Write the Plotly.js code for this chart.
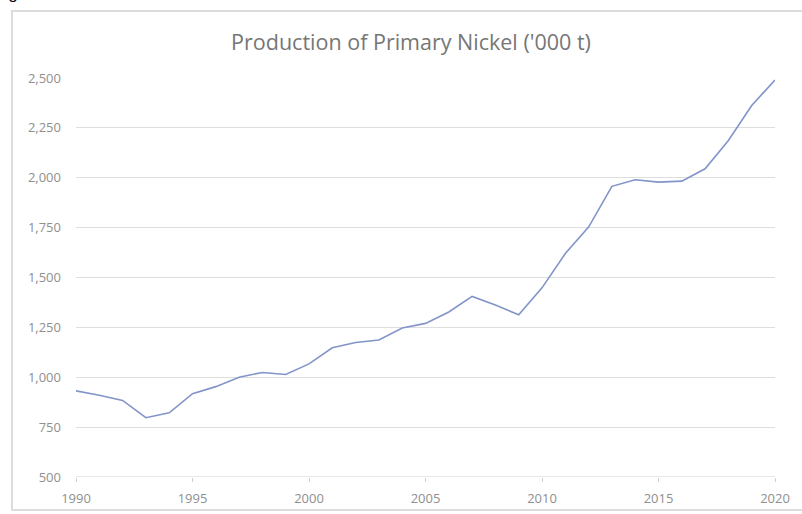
<!DOCTYPE html>
<html>
<head>
<meta charset="utf-8">
<script src="https://cdn.plot.ly/plotly-3.0.1.min.js"></script>
<style>
  html, body { margin: 0; padding: 0; background: #ffffff; }
  #chart { width: 802px; height: 514px; }
</style>
</head>
<body>
<div id="chart"></div>
<script>
// Data
const years = [1990, 1991, 1992, 1993, 1994, 1995, 1996, 1997, 1998, 1999,
               2000, 2001, 2002, 2003, 2004, 2005, 2006, 2007, 2008, 2009,
               2010, 2011, 2012, 2013, 2014, 2015, 2016, 2017, 2018, 2019, 2020];
const production = [932, 910, 884, 797, 822, 918, 953, 1000, 1024, 1014,
                    1067, 1148, 1174, 1187, 1247, 1270, 1327, 1405, 1362, 1313,
                    1448, 1620, 1753, 1957, 1990, 1978, 1983, 2045, 2187, 2362, 2490];
const yTickVals = [500, 750, 1000, 1250, 1500, 1750, 2000, 2250, 2500];
const xTickVals = [1990, 1995, 2000, 2005, 2010, 2015, 2020];
const chartTitle = "Production of Primary Nickel ('000 t)";

const trace = {
  x: years,
  y: production,
  type: 'scatter',
  mode: 'lines',
  line: { color: '#8294c9', width: 1.6 },
  hoverinfo: 'x+y'
};

const layout = {
  width: 802,
  height: 514,
  margin: { l: 76, r: 27, t: 78, b: 37 },
  paper_bgcolor: '#ffffff',
  plot_bgcolor: '#ffffff',
  showlegend: false,
  font: { family: 'Open Sans, sans-serif', color: '#8c8c8c', size: 13 },
  title: {
    text: chartTitle,
    font: { family: 'Open Sans, sans-serif', size: 21.5, color: '#767676' },
    xref: 'container', x: 0.5125, xanchor: 'center',
    yref: 'container', y: 0.918, yanchor: 'middle'
  },
  xaxis: {
    range: [1990, 2020],
    tickmode: 'array',
    tickvals: xTickVals,
    ticktext: xTickVals.map(String),
    showgrid: false,
    zeroline: false,
    showline: false,
    ticks: 'outside',
    ticklen: 4,
    tickcolor: '#cfcfcf',
    tickfont: { size: 13, color: '#8f8f8f' },
    ticklabelstandoff: 5
  },
  yaxis: {
    range: [500, 2500],
    tickmode: 'array',
    tickvals: yTickVals,
    ticktext: yTickVals.map(v => v.toLocaleString('en-US')),
    showgrid: true,
    gridcolor: '#dedede',
    gridwidth: 1,
    zeroline: false,
    showline: false,
    ticks: '',
    tickfont: { size: 13, color: '#8f8f8f' },
    ticklabelstandoff: 14
  },
  shapes: [
    {
      type: 'rect', xref: 'paper', yref: 'paper',
      x0: -0.0916, x1: 1.12, y0: -0.0827, y1: 1.168,
      line: { color: '#dcdcdc', width: 2 },
      fillcolor: 'rgba(0,0,0,0)',
      layer: 'below'
    },
    {
      type: 'line', xref: 'paper', yref: 'y',
      x0: 0, x1: 1, y0: 500, y1: 500,
      line: { color: '#d0d0d0', width: 1 }
    }
  ],
  annotations: [
    {
      text: 'Figure',
      xref: 'paper', yref: 'paper',
      x: -0.12, xanchor: 'left',
      y: 1.183, yanchor: 'bottom',
      showarrow: false,
      font: { family: 'Liberation Sans, sans-serif', size: 17, color: '#111111' }
    }
  ]
};

Plotly.newPlot('chart', [trace], layout, { displayModeBar: false, staticPlot: true });
</script>
</body>
</html>
